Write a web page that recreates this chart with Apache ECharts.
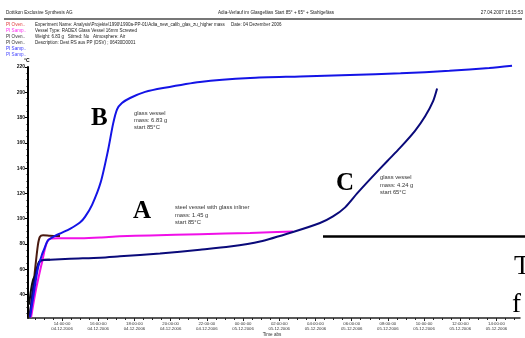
<!DOCTYPE html>
<html>
<head>
<meta charset="utf-8">
<script src="https://cdn.jsdelivr.net/npm/echarts@6/dist/echarts.min.js"></script>
<style>
  html, body { margin: 0; padding: 0; background: #fff; }
  #chart { width: 525px; height: 338px; }
</style>
</head>
<body>
<div id="chart"></div>
<script>
// Time is stored as hours elapsed since 04.12.2006 12:00:00
const axisStartHour = 0.12;
const axisEndHour = 27.3;
const timeLabelHours = [2, 4, 6, 8, 10, 12, 14, 16, 18, 20, 22, 24, 26];
const timeTickHours = [];
for (let h = 0.5; h <= 27; h += 0.5) timeTickHours.push(h);

const tempMin = 21.5;
const tempMax = 220;
const tempLabels = [40, 60, 80, 100, 120, 140, 160, 180, 200, 220];
const tempMinorTicks = [];
for (let t = 25; t <= 220; t += 5) tempMinorTicks.push(t);

// B: glass vessel, 6.83 g, start 85 °C
const vesselBHours = [0.23, 0.45, 0.67, 0.9, 1.0, 1.23, 1.61, 2.0, 2.44, 2.99, 3.27, 3.66, 4.14, 4.54, 4.82, 5.04, 5.31, 5.76, 6.59, 7.58, 9.62, 12.39, 15.15, 17.9, 20.7, 23.4, 25.6, 26.86];
const vesselBTemp  = [22, 42, 61, 72, 75.5, 83, 86.5, 89, 92, 97, 101.5, 111, 129, 154, 175, 186.5, 191.5, 195.5, 200.3, 203.4, 208.2, 211.3, 212.5, 213.7, 215, 217, 219.2, 221];

// A: steel vessel with glass inliner, 1.45 g, start 85 °C
const vesselAHours = [0.29, 0.56, 0.9, 1.12, 1.34, 1.89, 3.0, 4.1, 5.2, 6.86, 9.62, 12.39, 14.76];
const vesselATemp  = [22, 44, 66, 79.5, 84.2, 84.5, 84.6, 85.2, 86.1, 86.8, 87.8, 88.8, 90];

// C: glass vessel, 4.24 g, start 65 °C
const vesselCHours = [0.23, 0.39, 0.56, 0.72, 0.9, 1.34, 2.44, 4.1, 5.2, 7.41, 9.62, 11.28, 12.94, 14.76, 16.25, 16.97, 17.64, 18.3, 19.1, 19.96, 20.67, 21.5, 22.06, 22.5, 22.72];
const vesselCTemp  = [23, 44, 56, 65, 67.2, 67.6, 68.4, 69.2, 70.3, 72.5, 75.5, 78, 82, 89.5, 96.6, 101.8, 109, 120, 132.5, 145.5, 156, 169.5, 181, 193, 203];

// oven temperatures at the start of the runs
const oven85Hours = [0.18, 0.34, 0.51, 0.67, 0.78, 0.95, 1.34, 1.89];
const oven85Temp  = [22, 36, 59.7, 79.5, 85.8, 87, 86.6, 86.3];
const oven65Hours = [0.18, 0.29, 0.4, 0.51, 0.62, 0.73, 0.9, 1.34];
const oven65Temp  = [32, 44, 51.8, 55, 61.3, 66, 67.6, 67.6];

const pair = (xs, ys) => xs.map((x, i) => [x, ys[i]]);

function timeLabel(h) {
  const total = Math.round(12 + h);
  const hh = String(total % 24).padStart(2, '0');
  const dd = String(4 + Math.floor(total / 24)).padStart(2, '0');
  return hh + ':00:00\n' + dd + '.12.2006';
}

const sans = '"Liberation Sans", Arial, sans-serif';
const serif = '"Liberation Serif", "DejaVu Serif", serif';

function lineSeries(name, data, color, z) {
  return {
    name, type: 'line', data, symbol: 'none', smooth: 0.25,
    clip: false, z, lineStyle: { color, width: 2 }
  };
}

function txt(text, x, y, size, color, extra, z) {
  return {
    type: 'text', silent: true, z: z || 10,
    style: Object.assign({
      text, x, y, fill: color, fontSize: size, fontFamily: sans,
      textVerticalAlign: 'middle'
    }, extra || {})
  };
}

const chart = echarts.init(document.getElementById('chart'), null, { renderer: 'canvas' });

chart.setOption({
  animation: false,
  backgroundColor: '#fff',
  grid: { left: 28, right: 5, top: 67, bottom: 20, containLabel: false, outerBoundsMode: 'none' },
  xAxis: [{
    type: 'value', min: axisStartHour, max: axisEndHour,
    axisLine: { lineStyle: { color: '#222', width: 1.5 } },
    axisTick: { customValues: timeLabelHours, length: 3, lineStyle: { color: '#222' } },
    axisLabel: {
      customValues: timeLabelHours, formatter: timeLabel, margin: 3,
      fontSize: 4.3, lineHeight: 5, fontFamily: sans, color: '#333'
    },
    splitLine: { show: false }
  }, {
    type: 'value', min: axisStartHour, max: axisEndHour, position: 'bottom',
    axisLine: { show: false },
    axisTick: { customValues: timeTickHours, length: 2, lineStyle: { color: '#222' } },
    axisLabel: { show: false }, splitLine: { show: false }
  }],
  yAxis: [{
    type: 'value', min: tempMin, max: tempMax,
    axisLine: { show: true, lineStyle: { color: '#000', width: 2 } },
    axisTick: { customValues: tempLabels, length: 3, lineStyle: { color: '#000' } },
    axisLabel: {
      customValues: tempLabels, margin: 3, fontSize: 5, fontWeight: 'bold',
      fontFamily: sans, color: '#111'
    },
    splitLine: { show: false }
  }, {
    type: 'value', min: tempMin, max: tempMax, position: 'left',
    axisLine: { show: false },
    axisTick: { customValues: tempMinorTicks, length: 1.5, lineStyle: { color: '#000' } },
    axisLabel: { show: false }, splitLine: { show: false }
  }],
  series: [
    lineSeries('PI Oven 85', pair(oven85Hours, oven85Temp), '#4a1a10', 2),
    lineSeries('PI Oven 65', pair(oven65Hours, oven65Temp), '#111', 2),
    lineSeries('A', pair(vesselAHours, vesselATemp), '#f010e8', 3),
    lineSeries('C', pair(vesselCHours, vesselCTemp), '#0a0a7a', 4),
    lineSeries('B', pair(vesselBHours, vesselBTemp), '#1414e6', 5)
  ],
  graphic: [
    // page header
    txt('Dottikon Exclusive Synthesis AG', 6, 12.5, 4.6, '#222'),
    txt('Adia-Verlauf im Glasgefäss Start 85° + 65° + Stahlgefäss', 218, 12.5, 4.6, '#222'),
    txt('27.04.2007 16:15:53', 523, 12.5, 4.6, '#222', { textAlign: 'right' }),
    { type: 'line', silent: true, shape: { x1: 4, y1: 19, x2: 522, y2: 19 },
      style: { stroke: '#777', lineWidth: 2 } },
    // channel list
    txt('PI Oven..', 6, 25, 4.6, '#e03a3a'),
    txt('PI Samp..', 6, 31, 4.6, '#ff30f0'),
    txt('PI Oven..', 6, 36.7, 4.6, '#333'),
    txt('PI Oven..', 6, 42.7, 4.6, '#333'),
    txt('PI Samp..', 6, 48.7, 4.6, '#3434ff'),
    txt('PI Samp..', 6, 54.3, 4.6, '#4a4aff'),
    // experiment description
    txt('Experiment Name: Analysis\\Projekte\\1990\\1990a-PP-01\\Adia_new_calib_glas_zu_higher mass     Date: 04 Dezember 2006', 35, 25, 4.5, '#222'),
    txt('Vessel Type: RADEX Glass Vessel 16mm Screwed', 35, 31, 4.5, '#222'),
    txt('Weight: 6.83 g   Stirred: No   Atmosphere: Air', 35, 36.7, 4.5, '#222'),
    txt('Description: Dest RS aus PP (DSV) ; 06430D0001', 35, 42.7, 4.5, '#222'),
    txt('°C', 24, 60.5, 5, '#000', { fontWeight: 'bold' }),
    // x axis title
    txt('Time abs', 272, 334.5, 4.6, '#333', { textAlign: 'center' }),
    // curve annotations
    txt('B', 91, 119, 25, '#000', { fontFamily: serif, fontWeight: 'bold' }),
    txt('glass vessel\nmass: 6.83 g\nstart 85°C', 134, 120.5, 5.8, '#333', { lineHeight: 7.3 }),
    txt('A', 133, 212, 25, '#000', { fontFamily: serif, fontWeight: 'bold' }),
    txt('steel vessel with glass inliner\nmass: 1.45 g\nstart 85°C', 175, 215, 5.8, '#333', { lineHeight: 7.7 }),
    txt('C', 336, 184, 25, '#000', { fontFamily: serif, fontWeight: 'bold' }),
    txt('glass vessel\nmass: 4.24 g\nstart 65°C', 380, 185, 5.8, '#333', { lineHeight: 7.7 }),
    // overlapping slide elements on the right
    { type: 'line', silent: true, z: 50, shape: { x1: 323, y1: 236.5, x2: 525, y2: 236.5 },
      style: { stroke: '#000', lineWidth: 2.5 } },
    { type: 'rect', silent: true, z: 49, shape: { x: 514, y: 250, width: 11, height: 67 },
      style: { fill: '#fff' } },
    txt('T', 514, 267, 27, '#000', { fontFamily: serif }, 50),
    txt('f', 512, 305, 27, '#000', { fontFamily: serif }, 50)
  ]
});
</script>
</body>
</html>
